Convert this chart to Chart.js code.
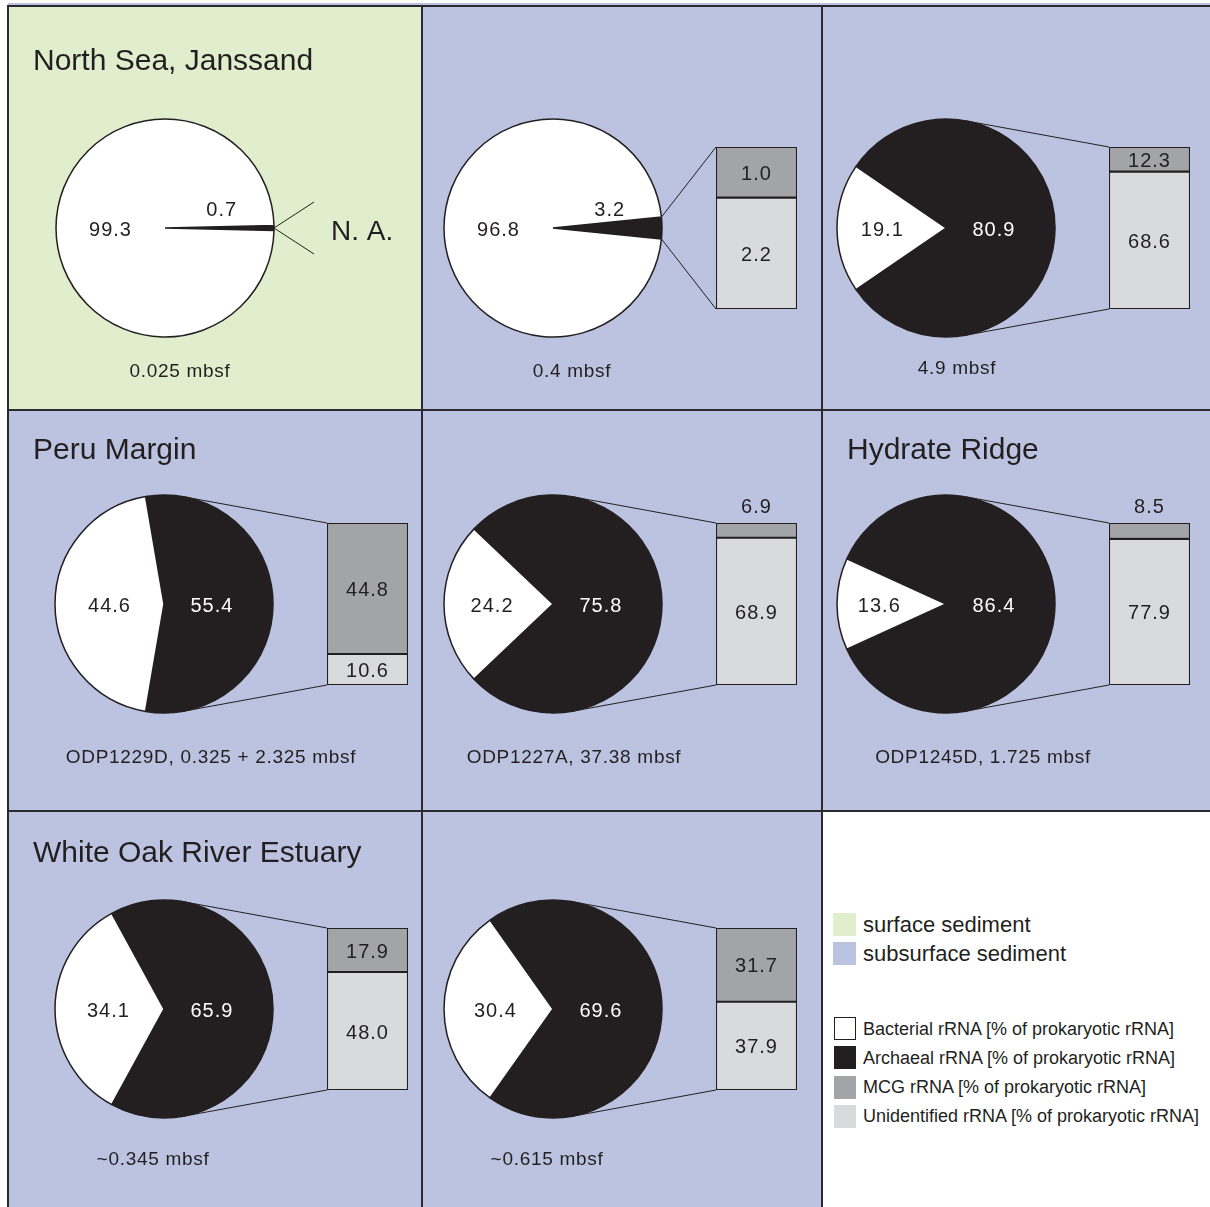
<!DOCTYPE html>
<html>
<head>
<meta charset="utf-8">
<title>Prokaryotic rRNA in marine sediments</title>
<script src="https://cdn.jsdelivr.net/npm/chart.js@4.4.1/dist/chart.umd.min.js"></script>
<style>
  html, body { margin: 0; padding: 0; background: #ffffff; }
  body { width: 1210px; height: 1207px; overflow: hidden; font-family: "Liberation Sans", Arial, Helvetica, sans-serif; color: #231f20; }
  #figure { position: relative; width: 1210px; height: 1207px; }
  .cell, .rule, .title, .caption, .swatch, .key, canvas { position: absolute; }
  .rule { background: #2b2a30; }
  .title { font-size: 30px; line-height: 34px; white-space: nowrap; }
  .caption { font-size: 19px; line-height: 24px; letter-spacing: 0.7px; text-align: center; width: 400px; white-space: nowrap; }
  .swatch { width: 22px; height: 23px; box-sizing: border-box; }
  .key { white-space: nowrap; line-height: 24px; }
</style>
</head>
<body>
<div id="figure"></div>
<script>
// -------------------------------------------------------------
// rRNA composition per sediment sample
// pie = bacterial vs archaeal, bar = split of the archaeal slice
// -------------------------------------------------------------

// Data, one entry per panel (left to right, top to bottom)
const siteNames = ['North Sea, Janssand', '', '', 'Peru Margin', '', 'Hydrate Ridge', 'White Oak River Estuary', ''];
const sampleDepths = ['0.025 mbsf', '0.4 mbsf', '4.9 mbsf', 'ODP1229D, 0.325 + 2.325 mbsf',
                      'ODP1227A, 37.38 mbsf', 'ODP1245D, 1.725 mbsf', '~0.345 mbsf', '~0.615 mbsf'];
const sedimentTypes = ['surface', 'subsurface', 'subsurface', 'subsurface', 'subsurface', 'subsurface', 'subsurface', 'subsurface'];
const bacterialRNA = [99.3, 96.8, 19.1, 44.6, 24.2, 13.6, 34.1, 30.4];
const archaealRNA = [0.7, 3.2, 80.9, 55.4, 75.8, 86.4, 65.9, 69.6];
const mcgRNA = [null, 1.0, 12.3, 44.8, 6.9, 8.5, 17.9, 31.7];
const unidentifiedRNA = [null, 2.2, 68.6, 10.6, 68.9, 77.9, 48.0, 37.9];

// Legend texts
const sedimentLegend = ['surface sediment', 'subsurface sediment'];
const rnaLegend = ['Bacterial rRNA [% of prokaryotic rRNA]', 'Archaeal rRNA [% of prokaryotic rRNA]',
                   'MCG rRNA [% of prokaryotic rRNA]', 'Unidentified rRNA [% of prokaryotic rRNA]'];

// Colours
const INK = '#231f20';
const BACT_COLOR = '#ffffff';
const MCG_COLOR = '#a3a4a7';
const UNID_COLOR = '#d9dadc';
const SURFACE_BG = '#e1eece';
const SUBSURFACE_BG = '#bbc3e1';

// Layout (pixels)
const colEdges = [8, 422, 822, 1210];
const rowEdges = [5, 410, 811, 1207];
const pieCentres = [[165, 228], [553, 228], [946, 228], [164, 604], [553, 604], [946, 604], [164, 1009], [553, 1009]];
const barLefts = [327, 716, 1109];
const PIE_R = 109;
const BAR_W = 81;
const BAR_HALF = 81;
const titleAt = [[33, 60], null, null, [33, 449], null, [847, 449], [33, 852], null];
const captionAt = [[180, 370], [572, 370], [957, 367], [211, 756], [574, 756], [983, 756], [153, 1158], [547, 1158]];
const NUM_FONT = '20px "Liberation Sans", Arial, sans-serif';

const fig = document.getElementById('figure');

const addBox = (cls, x, y, w, h, bg) => {
    const el = document.createElement('div');
    el.className = cls;
    el.style.left = x + 'px';
    el.style.top = y + 'px';
    if (w != null) el.style.width = w + 'px';
    if (h != null) el.style.height = h + 'px';
    if (bg) el.style.background = bg;
    fig.appendChild(el);
    return el;
};

const addCanvas = (x, y, w, h) => {
    const c = document.createElement('canvas');
    c.width = w;
    c.height = h;
    c.style.left = x + 'px';
    c.style.top = y + 'px';
    c.style.width = w + 'px';
    c.style.height = h + 'px';
    fig.appendChild(c);
    return c;
};

// numbers inside / next to the pie slices
const pieLabels = {
    id: 'pieLabels',
    afterDatasetsDraw(chart) {
        const ctx = chart.ctx;
        const values = chart.data.datasets[0].data;
        ctx.save();
        ctx.font = NUM_FONT;
        ctx.letterSpacing = '1px';
        ctx.textAlign = 'center';
        ctx.textBaseline = 'middle';
        chart.getDatasetMeta(0).data.forEach((arc, j) => {
            const v = values[j];
            const r = arc.outerRadius;
            const mid = (arc.startAngle + arc.endAngle) / 2;
            let x, y;
            if (j === 0 && v < 5) {
                // thin archaeal wedge, number sits above it
                x = arc.x + 0.52 * r;
                y = arc.y - 18;
                ctx.fillStyle = INK;
            } else {
                const k = j === 0 ? 0.44 : Math.max(0.5, 0.68 - 0.005 * v);
                x = arc.x + k * r * Math.cos(mid);
                y = arc.y + 2 + k * r * Math.sin(mid);
                ctx.fillStyle = j === 0 ? '#ffffff' : INK;
            }
            ctx.fillText(v.toFixed(1), x, y);
        });
        ctx.restore();
    }
};

// numbers in the bar segments (above the bar when the segment is too thin)
const barLabels = {
    id: 'barLabels',
    afterDatasetsDraw(chart) {
        const ctx = chart.ctx;
        ctx.save();
        ctx.font = NUM_FONT;
        ctx.letterSpacing = '1px';
        ctx.textAlign = 'center';
        ctx.textBaseline = 'middle';
        ctx.fillStyle = INK;
        chart.data.datasets.forEach((ds, d) => {
            const el = chart.getDatasetMeta(d).data[0];
            const segH = Math.abs(el.base - el.y);
            const y = segH >= 20 ? (el.y + el.base) / 2 + 2 : el.y - 16;
            ctx.fillText(ds.data[0].toFixed(1), el.x, y);
        });
        ctx.restore();
    }
};

// lines joining the archaeal slice to its bar (or to "N. A.")
const zoomLines = (barChart) => ({
    id: 'zoomLines',
    afterDraw(chart) {
        const ctx = chart.ctx;
        const arc = chart.getDatasetMeta(0).data[0];
        const r = arc.outerRadius;
        ctx.save();
        ctx.strokeStyle = INK;
        ctx.lineWidth = 1;
        ctx.beginPath();
        if (barChart) {
            const topEl = barChart.getDatasetMeta(1).data[0];
            const botEl = barChart.getDatasetMeta(0).data[0];
            const bx = topEl.x - topEl.width / 2;
            [[bx, topEl.y, -1], [bx, botEl.base, 1]].forEach(([px, py, s]) => {
                const d = Math.hypot(px - arc.x, py - arc.y);
                let a = Math.atan2(py - arc.y, px - arc.x) + s * Math.acos(r / d);
                a = s < 0 ? Math.max(a, arc.startAngle) : Math.min(a, arc.endAngle);
                ctx.moveTo(arc.x + r * Math.cos(a), arc.y + r * Math.sin(a));
                ctx.lineTo(px, py);
            });
            ctx.stroke();
        } else {
            const mid = (arc.startAngle + arc.endAngle) / 2;
            const ex = arc.x + r * Math.cos(mid);
            const ey = arc.y + r * Math.sin(mid);
            ctx.moveTo(ex, ey); ctx.lineTo(ex + 40, ey - 26);
            ctx.moveTo(ex, ey); ctx.lineTo(ex + 40, ey + 26);
            ctx.stroke();
            ctx.fillStyle = INK;
            ctx.font = '28px "Liberation Sans", Arial, sans-serif';
            ctx.textAlign = 'left';
            ctx.textBaseline = 'middle';
            ctx.fillText('N. A.', ex + 57, ey + 4);
        }
        ctx.restore();
    }
});

// Panels
for (let i = 0; i < bacterialRNA.length; i++) {
    const col = i % 3, row = Math.floor(i / 3);
    const left = colEdges[col], top = rowEdges[row];
    const w = colEdges[col + 1] - left, h = rowEdges[row + 1] - top;
    const [cx, cy] = pieCentres[i];

    addBox('cell', left, top, w, h, sedimentTypes[i] === 'surface' ? SURFACE_BG : SUBSURFACE_BG);

    // stacked bar for the archaeal breakdown
    let barChart = null;
    if (mcgRNA[i] !== null) {
        const bx = barLefts[col];
        barChart = new Chart(addCanvas(left, top, w, h), {
            type: 'bar',
            data: {
                labels: [sampleDepths[i]],
                datasets: [
                    { label: 'Unidentified rRNA', data: [unidentifiedRNA[i]], backgroundColor: UNID_COLOR },
                    { label: 'MCG rRNA', data: [mcgRNA[i]], backgroundColor: MCG_COLOR }
                ]
            },
            options: {
                responsive: false,
                animation: false,
                layout: {
                    padding: {
                        left: bx - left,
                        right: left + w - bx - BAR_W,
                        top: cy - BAR_HALF - top,
                        bottom: top + h - cy - BAR_HALF
                    }
                },
                datasets: {
                    bar: { barPercentage: 1, categoryPercentage: 1, borderWidth: 1.4, borderColor: INK, borderSkipped: false }
                },
                scales: {
                    x: { stacked: true, display: false },
                    y: { stacked: true, display: false, min: 0, max: archaealRNA[i] }
                },
                plugins: { legend: { display: false }, tooltip: { enabled: false } }
            },
            plugins: [barLabels]
        });
    }

    // pie: archaeal slice centred on the right, bacterial on the left
    new Chart(addCanvas(left, top, w, h), {
        type: 'pie',
        data: {
            labels: ['Archaeal rRNA', 'Bacterial rRNA'],
            datasets: [{
                data: [archaealRNA[i], bacterialRNA[i]],
                backgroundColor: [INK, BACT_COLOR],
                borderColor: INK,
                borderWidth: 1.5
            }]
        },
        options: {
            responsive: false,
            animation: false,
            radius: PIE_R,
            rotation: 90 - archaealRNA[i] * 1.8,
            layout: {
                padding: {
                    left: cx - left - PIE_R - 4,
                    right: left + w - cx - PIE_R - 4,
                    top: cy - top - PIE_R - 4,
                    bottom: top + h - cy - PIE_R - 4
                }
            },
            plugins: { legend: { display: false }, tooltip: { enabled: false } }
        },
        plugins: [pieLabels, zoomLines(barChart)]
    });
}

// white legend cell
addBox('cell', colEdges[2], rowEdges[2], colEdges[3] - colEdges[2], rowEdges[3] - rowEdges[2], '#ffffff');

// Grid rules
addBox('rule', 8, 3, 1202, 2, SUBSURFACE_BG);
addBox('rule', 7, 5, 1203, 2);
addBox('rule', 7, 5, 2, 1202);
addBox('rule', 421, 5, 2, 1202);
addBox('rule', 821, 5, 2, 1202);
addBox('rule', 7, 409, 1203, 2);
addBox('rule', 7, 810, 1203, 2);

// Titles and captions
siteNames.forEach((name, i) => {
    if (!name) return;
    const t = addBox('title', titleAt[i][0], titleAt[i][1] - 17);
    t.textContent = name;
});
sampleDepths.forEach((txt, i) => {
    const c = addBox('caption', captionAt[i][0] - 200, captionAt[i][1] - 11);
    c.textContent = txt;
});

// Legend
const sedimentSwatches = [SURFACE_BG, SUBSURFACE_BG];
sedimentLegend.forEach((txt, k) => {
    const y = 913 + k * 29;
    addBox('swatch', 833, y, 23, 23, sedimentSwatches[k]);
    const t = addBox('key', 863, y);
    t.style.fontSize = '22px';
    t.textContent = txt;
});
const rnaSwatches = [BACT_COLOR, INK, MCG_COLOR, UNID_COLOR];
rnaLegend.forEach((txt, k) => {
    const y = 1017 + k * 29.3;
    const s = addBox('swatch', 834, y, 22, 23, rnaSwatches[k]);
    if (k === 0) s.style.border = '1.5px solid ' + INK;
    const t = addBox('key', 863, y - 0.5);
    t.style.fontSize = '18px';
    t.textContent = txt;
});
</script>
</body>
</html>
